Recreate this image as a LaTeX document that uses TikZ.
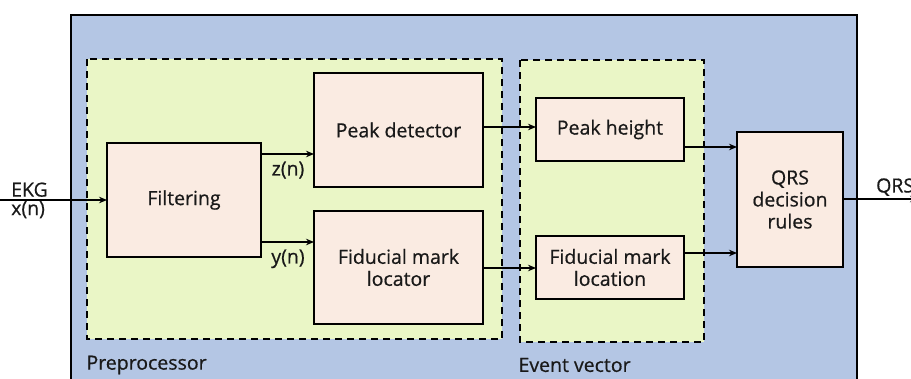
\documentclass[tikz,border=0pt]{standalone}
\usepackage{fontspec}
\setmainfont{Open Sans}
\usetikzlibrary{arrows.meta}
\definecolor{outerblue}{HTML}{B4C6E4}
\definecolor{groupgreen}{HTML}{EAF6C6}
\definecolor{boxfill}{HTML}{FAEBE2}
\tikzset{
  blk/.style={draw=black, line width=1.7pt, fill=boxfill},
  grp/.style={draw=black, line width=1.6pt, dash pattern=on 7pt off 5pt, fill=groupgreen},
  lbl/.style={font=\fontsize{19.5}{22}\selectfont\addfontfeature{FakeBold=0.6}, text=black!90},
  conn/.style={line width=1.6pt, -{Stealth[length=8pt,width=6.5pt]}},
}
\begin{document}
\begin{tikzpicture}[x=1pt,y=-1pt]
\useasboundingbox (0,0) rectangle (911,378);
\clip (0,0) rectangle (911,378);
% outer
\draw[line width=1.8pt, fill=outerblue] (71,15) rectangle (857,400);
% groups
\draw[grp] (87,59) rectangle (502,339);
\draw[grp] (520,60) rectangle (704,342);
\node[lbl, anchor=west] (pre) at (83,365) {Preprocessor};
\node[lbl, anchor=west] (ev) at (515,365) {Event vector};
% blocks
\path[blk] (107,143) rectangle (261,257);
\node[lbl] (filt) at (184,200) {Filtering};
\coordinate (filtR1) at (261,154);
\coordinate (filtR2) at (261,242);
\coordinate (filtL) at (107,200);

\path[blk] (314,73) rectangle (483,187);
\node[lbl] (pd) at (398.5,130) {Peak detector};
\coordinate (pdL) at (314,154);
\coordinate (pdR) at (483,127);

\path[blk] (314,211) rectangle (483,324);
\node[lbl, align=center] (fml) at (398.5,267.5) {Fiducial mark\\locator};
\coordinate (fmlL) at (314,242);
\coordinate (fmlR) at (483,268);

\path[blk] (536,98) rectangle (684,161);
\node[lbl] (ph) at (610,129.5) {Peak height};
\coordinate (phL) at (536,127);
\coordinate (phR) at (684,147);

\path[blk] (536,236) rectangle (684,299);
\node[lbl, align=center] (fmo) at (610,267.5) {Fiducial mark\\location};
\coordinate (fmoL) at (536,268);
\coordinate (fmoR) at (684,253);

\path[blk] (737,132) rectangle (843,267);
\node[lbl, align=center] (qrs) at (790,199.5) {QRS\\decision\\rules};
\coordinate (qrsL1) at (737,147);
\coordinate (qrsL2) at (737,253);
\coordinate (qrsR) at (843,199);

% connectors
\coordinate (inS) at (0,200);
\coordinate (outE) at (918,199);
\draw[conn] (inS) -- (filtL);
\node[lbl, anchor=south west, inner sep=1pt] (ekg) at (10,198) {EKG};
\node[lbl, anchor=north west, inner sep=1pt] (xn) at (10,200) {x(n)};
\draw[conn] (filtR1) -- (pdL);
\node[lbl, anchor=north] (zn) at (288,158) {z(n)};
\draw[conn] (filtR2) -- (fmlL);
\node[lbl, anchor=north] (yn) at (288,246) {y(n)};
\draw[conn] (pdR) -- (phL);
\draw[conn] (fmlR) -- (fmoL);
\draw[conn] (phR) -- (qrsL1);
\draw[conn] (fmoR) -- (qrsL2);
\draw[conn] (qrsR) -- (outE);
\node[lbl, anchor=south west, inner sep=1pt] (qrsout) at (875,197) {QRS};
\end{tikzpicture}
\end{document}
